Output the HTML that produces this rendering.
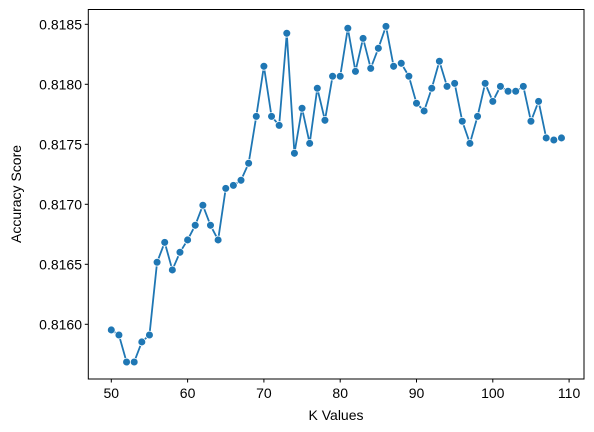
<!DOCTYPE html>
<html><head><meta charset="utf-8"><style>
html,body{margin:0;padding:0;background:#fff;}
svg{display:block;font-family:"Liberation Sans","DejaVu Sans",sans-serif;}
</style></head><body>
<svg id="chart" width="594" height="432" viewBox="0 0 594 432">
<rect x="88.3" y="9.5" width="495.7" height="369.5" fill="#fff" stroke="none"/>
<g id="series"></g>
<rect x="88.3" y="9.5" width="495.7" height="369.5" fill="none" stroke="#000" stroke-width="1"/>
<g id="xticks"></g>
<g id="yticks"></g>
<text x="336" y="420" text-anchor="middle" font-size="14">K Values</text>
<text transform="translate(21,194) rotate(-90)" text-anchor="middle" font-size="14">Accuracy Score</text>
</svg>
<script>
const kValues = [50,51,52,53,54,55,56,57,58,59,60,61,62,63,64,65,66,67,68,69,70,71,72,73,74,75,76,77,78,79,80,81,82,83,84,85,86,87,88,89,90,91,92,93,94,95,96,97,98,99,100,101,102,103,104,105,106,107,108,109];
const accuracy = [0.815953,0.815911,0.815686,0.815686,0.815853,0.815911,0.816517,0.816683,0.816453,0.816600,0.816703,0.816825,0.816992,0.816825,0.816703,0.817133,0.817158,0.817200,0.817342,0.817733,0.818150,0.817733,0.817658,0.818425,0.817425,0.817800,0.817508,0.817967,0.817700,0.818067,0.818067,0.818467,0.818108,0.818383,0.818133,0.818300,0.818483,0.818150,0.818175,0.818067,0.817842,0.817778,0.817967,0.818192,0.817983,0.818008,0.817692,0.817508,0.817733,0.818008,0.817858,0.817983,0.817942,0.817942,0.817983,0.817692,0.817858,0.817553,0.817536,0.817553];
const xTickValues = [50,60,70,80,90,100,110];
const yTickValues = [0.8160,0.8165,0.8170,0.8175,0.8180,0.8185];
const yTickLabels = ["0.8160","0.8165","0.8170","0.8175","0.8180","0.8185"];

const NS = "http://www.w3.org/2000/svg";
function xScale(k){ return 111.3 + (k-50)*7.63; }
function yScale(v){ return 324.3 - (v-0.8160)*120000; }
function mk(tag, attrs){ const e=document.createElementNS(NS,tag); for(const a in attrs) e.setAttribute(a,attrs[a]); return e; }

const xt = document.getElementById('xticks');
xTickValues.forEach(t=>{
  const x=xScale(t);
  const l=mk('line',{x1:x,x2:x,y1:379,y2:382.5,stroke:'#000','stroke-width':1});
  
  
  xt.appendChild(l);
  const tx=mk('text',{x:x,y:398,'text-anchor':'middle','font-size':14});
  
  
  tx.textContent=t; xt.appendChild(tx);
});
const yt = document.getElementById('yticks');
yTickValues.forEach((t,i)=>{
  const y=yScale(t);
  const l=mk('line',{x1:84.8,x2:88.3,y1:y,y2:y,stroke:'#000','stroke-width':1});
  
  
  yt.appendChild(l);
  const tx=mk('text',{x:82,y:y+5,'text-anchor':'end','font-size':14});
  
  
  tx.textContent=yTickLabels[i]; yt.appendChild(tx);
});

const s = document.getElementById('series');
const pts = kValues.map((k,i)=>xScale(k).toFixed(2)+','+yScale(accuracy[i]).toFixed(2)).join(' ');
const line = mk('polyline',{points:pts,fill:'none',stroke:'#1f77b4','stroke-width':1.8,'stroke-linejoin':'round'});


s.appendChild(line);
kValues.forEach((k,i)=>{
  const c=mk('circle',{cx:xScale(k),cy:yScale(accuracy[i]),r:3.9,fill:'#1f77b4',stroke:'#fff','stroke-width':0.75});
  
  
  s.appendChild(c);
});
</script>
</body></html>
